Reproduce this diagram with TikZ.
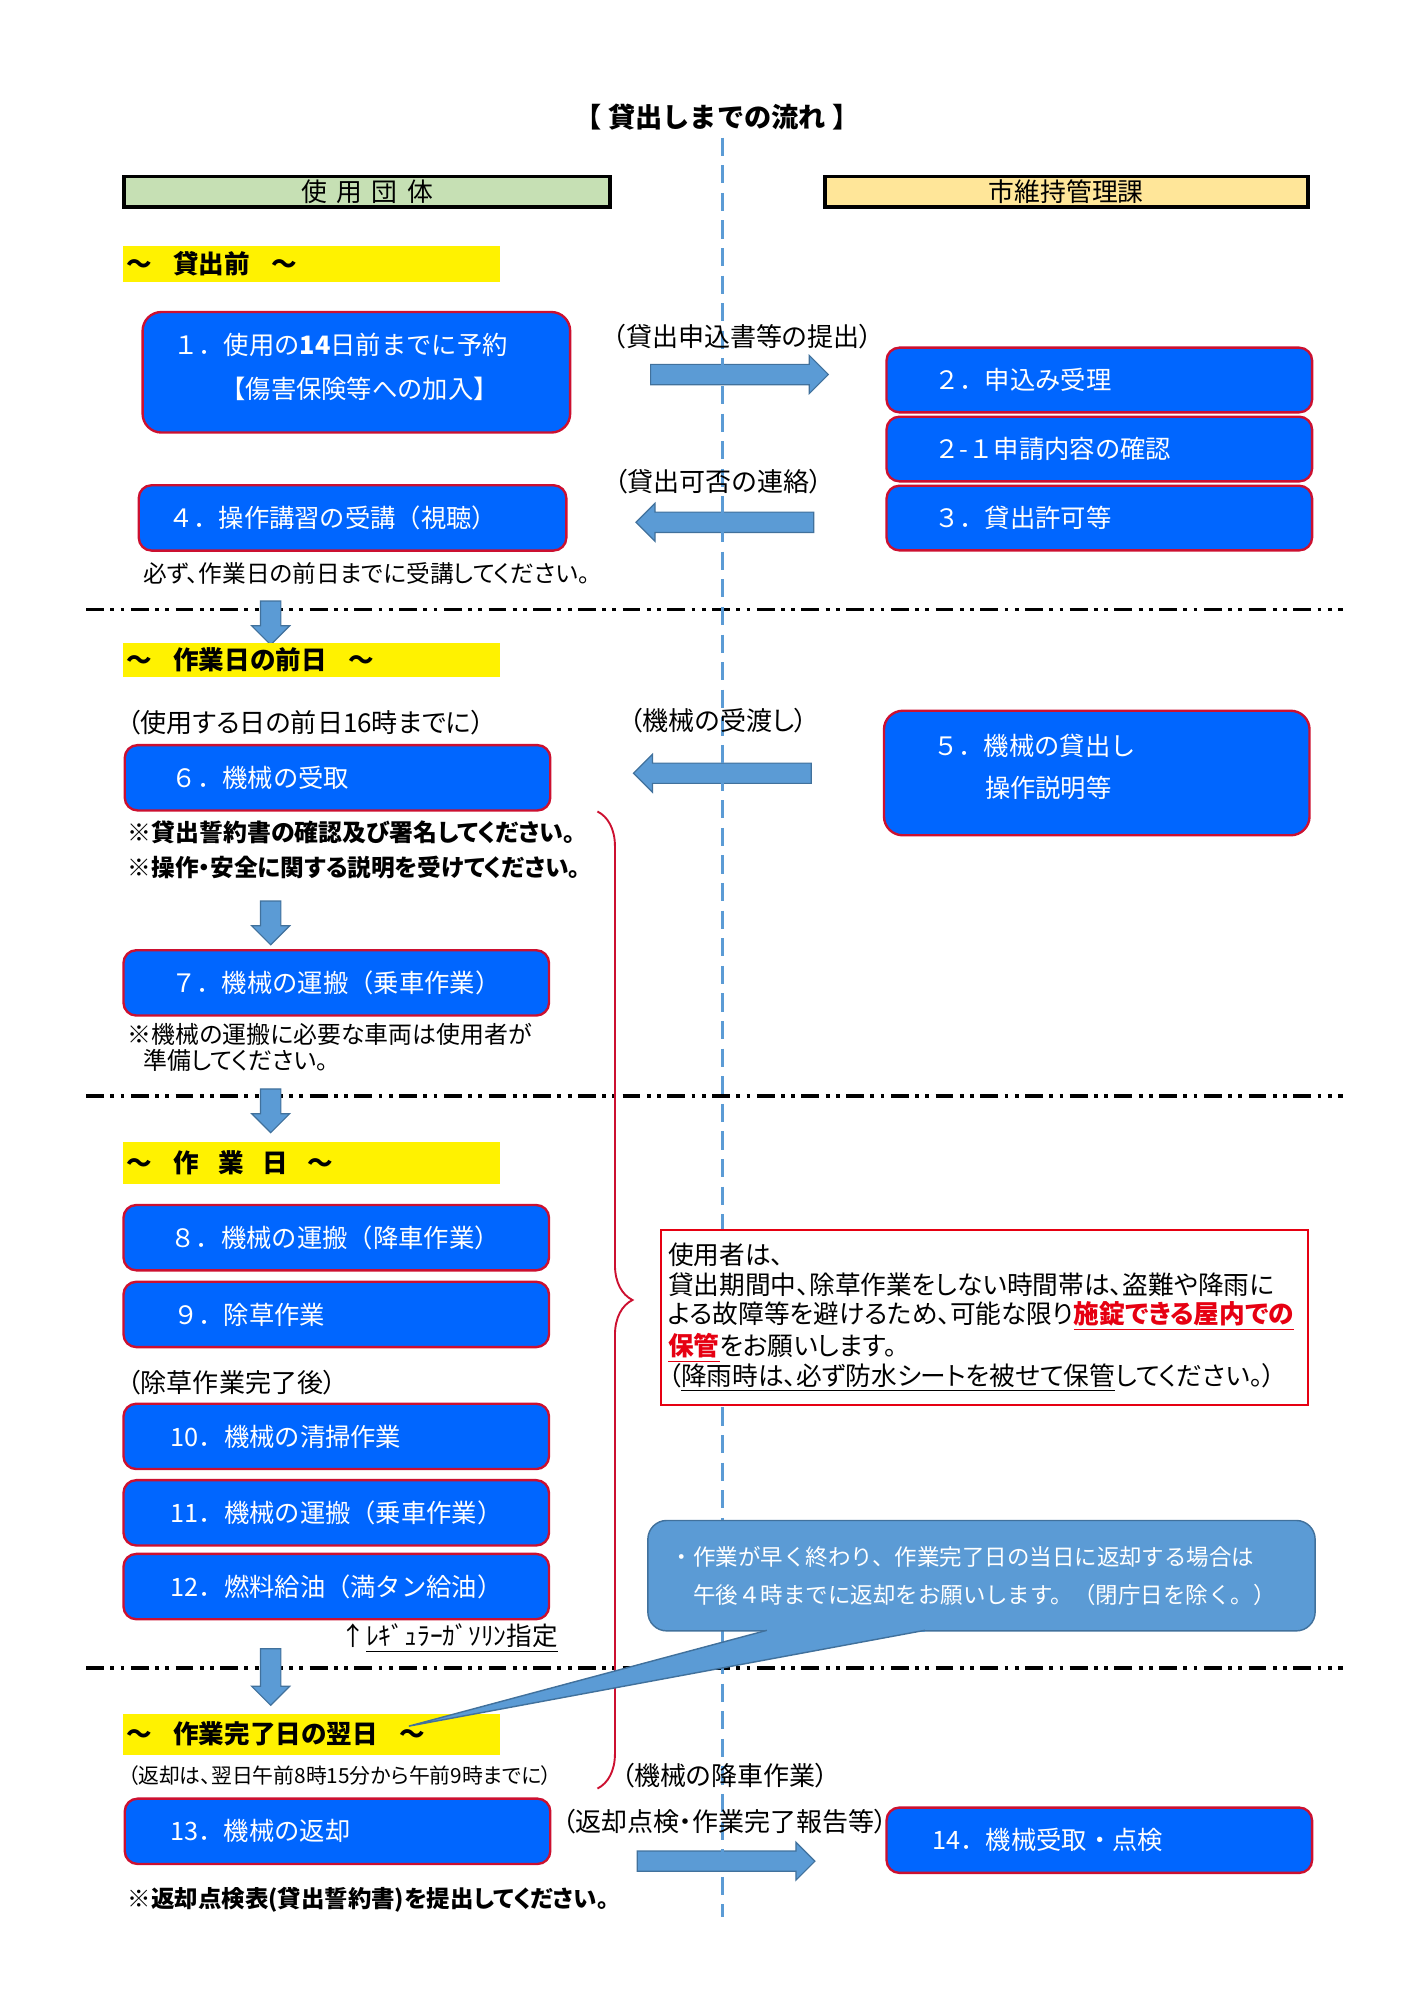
\documentclass[tikz,border=0pt]{standalone}
\usepackage{fontspec}
\setmainfont{Noto Sans CJK JP}
\newfontfamily\propfont{Noto Sans CJK JP}[RawFeature=+palt]
\usetikzlibrary{positioning, shapes.arrows, decorations.pathreplacing}

\definecolor{boxblue}{RGB}{0,102,255}
\definecolor{boxred}{RGB}{204,16,48}
\definecolor{flowblue}{RGB}{91,155,213}
\definecolor{flowedge}{RGB}{65,113,156}
\definecolor{usergreen}{RGB}{198,224,180}
\definecolor{cityyellow}{RGB}{255,230,153}
\definecolor{notered}{RGB}{230,0,18}

\begin{document}
\begin{tikzpicture}[
		x=0.1892mm, y=-0.1892mm,
		stepbox/.style={rectangle, rounded corners=1.9mm, draw=boxred, line width=1pt,
			fill=boxblue, text=white, anchor=north west, minimum width=63.2mm,
			minimum height=9.7mm, text width=63.2mm, inner xsep=0pt, inner ysep=0pt,
			align=left, font=\fontsize{10.7}{13}\selectfont},
		headbox/.style={rectangle, draw=black, line width=1.6pt, anchor=north west,
			minimum width=71.7mm, minimum height=4.6mm, inner sep=0pt,
			font=\fontsize{10.9}{13}\selectfont},
		bandbox/.style={rectangle, fill=yellow, anchor=north west, minimum width=56mm,
			text width=56mm, inner xsep=0pt, inner ysep=0pt, align=left,
			font=\bfseries\fontsize{10.8}{13}\selectfont},
		flowarrow/.style={single arrow, draw=flowedge, fill=flowblue, line width=0.5pt,
			inner sep=1.42mm, single arrow head extend=1.32mm,
			single arrow head indent=0pt, minimum height=26.4mm},
		downarrow/.style={flowarrow, rotate=270, minimum height=6.5mm},
		caption/.style={inner sep=0pt, font=\propfont\fontsize{11}{13}\selectfont},
		remark/.style={caption, anchor=west},
		notebox/.style={rectangle, draw=notered, line width=0.8pt, fill=white,
			anchor=north west, minimum width=96.1mm, minimum height=25.9mm,
			text width=96.1mm, inner xsep=0pt, inner ysep=0pt, align=left,
			font=\propfont\fontsize{10.85}{12.5}\selectfont},
		callbox/.style={rectangle, rounded corners=2.8mm, draw=flowedge, line width=0.6pt,
			fill=flowblue, text=white, anchor=north west, minimum width=99.1mm,
			minimum height=16.4mm, text width=99.1mm, inner xsep=0pt, inner ysep=0pt,
			align=left, font=\fontsize{9.5}{16}\selectfont},
		sepline/.style={line width=1.5pt,
			dash pattern=on 2.65mm off 0.95mm on 0.57mm off 0.95mm on 0.57mm off 0.95mm},
		lanedash/.style={flowblue, line width=1.1pt, dash pattern=on 2.7mm off 1.4mm}
	]
	\useasboundingbox (0,0) rectangle (1110,1570);

	\foreach \sy in {478.5, 860.5, 1309.5}
		\draw[sepline] (67.6,\sy) -- (1054,\sy);

	\coordinate (braceTop) at (469,637);
	\coordinate (braceBot) at (469,1404);
	\draw[boxred, line width=0.8pt, decorate, decoration={brace, amplitude=5.2mm}]
		(braceTop) -- (braceBot);

	\node[flowarrow] (AR1) at (576.5,294) {};
	\node[flowarrow, rotate=180] (AL1) at (573,410) {};
	\node[flowarrow, rotate=180] (AL2) at (571,607) {};
	\node[flowarrow] (AR2) at (566,1461) {};
	\node[downarrow] (D1) at (212.5,485) {};
	\node[downarrow] (D2) at (212.5,720.5) {};
	\node[downarrow] (D3) at (212.5,868) {};
	\node[downarrow, minimum height=8.4mm] (D4) at (212.5,1312.5) {};

	\coordinate (laneTop) at (567,108);
	\coordinate (laneBot) at (567,1505);
	\draw[lanedash] (laneTop) -- (laneBot);

	\node[font=\bfseries\fontsize{11.5}{13}\selectfont] (title) at (563,92) {【 貸出しまでの流れ 】};
	\node[headbox, fill=usergreen, minimum width=72.1mm] (user) at (96,137) {使\hspace{0.37em}用\hspace{0.37em}団\hspace{0.37em}体};
	\node[headbox, fill=cityyellow] (city) at (646,137) {市維持管理課};

	\node[bandbox, minimum height=5.3mm] (P0) at (96.5,193) {\hspace*{0.4mm}～\hspace*{0.85em}貸出前\hspace*{0.85em}～};
	\node[bandbox, minimum height=5.1mm] (P1) at (96.5,504) {\hspace*{0.4mm}～\hspace*{0.85em}作業日の前日\hspace*{0.85em}～};
	\node[bandbox, minimum height=6.25mm] (P2) at (96.5,896) {\hspace*{0.4mm}～\hspace*{0.85em}作\hspace*{0.75em}業\hspace*{0.75em}日\hspace*{0.75em}～};
	\node[bandbox, minimum height=6.05mm] (P3) at (96.5,1345) {\hspace*{0.4mm}～\hspace*{0.85em}作業完了日の翌日\hspace*{0.85em}～};

	\node[stepbox, rounded corners=2.8mm, minimum width=63.5mm, minimum height=17.9mm, font=\fontsize{10.7}{18.6}\selectfont] (B1) at (111,244)
		{\hspace*{4.4mm}１．使用の\textbf{14}日前までに予約\\\hspace*{11.4mm}【傷害保険等への加入】\rule[-1.8mm]{0pt}{0pt}};
	\node[stepbox, minimum height=9.6mm] (B2) at (695,272) {\hspace*{7.1mm}２．申込み受理};
	\node[stepbox, minimum height=9.6mm, below=0.3mm of B2] (B21) {\hspace*{7.1mm}２-１申請内容の確認};
	\node[stepbox, minimum height=9.6mm, below=0.3mm of B21] (B3) {\hspace*{7.1mm}３．貸出許可等};
	\node[stepbox, minimum width=63.5mm] (B4) at (108,380) {\hspace*{4.2mm}４．操作講習の受講（視聴）};
	\node[stepbox, rounded corners=2.8mm, minimum height=18.5mm, font=\fontsize{10.7}{18}\selectfont] (B5) at (693,557)
		{\hspace*{7.3mm}５．機械の貸出し\\\hspace*{15mm}操作説明等\rule[-2.2mm]{0pt}{0pt}};
	\node[stepbox] (B6) at (97,584) {\hspace*{7mm}６．機械の受取};
	\node[stepbox] (B7) at (96,745) {\hspace*{7.1mm}７．機械の運搬（乗車作業）};
	\node[stepbox] (B8) at (96,945) {\hspace*{7mm}８．機械の運搬（降車作業）};
	\node[stepbox, below=1.35mm of B8] (B9) {\hspace*{7.4mm}９．除草作業};
	\node[stepbox] (B10) at (96,1101) {\hspace*{7mm}10．機械の清掃作業};
	\node[stepbox, below=1.3mm of B10] (B11) {\hspace*{7mm}11．機械の運搬（乗車作業）};
	\node[stepbox, below=0.9mm of B11] (B12) {\hspace*{7mm}12．燃料給油（満タン給油）};
	\node[stepbox] (B13) at (97,1411) {\hspace*{6.8mm}13．機械の返却};
	\node[stepbox] (B14) at (695,1418) {\hspace*{6.8mm}14．機械受取・点検};

	\node[caption] (C1) at (583,264) {（貸出申込書等の提出）};
	\node[caption] (C2) at (564,378) {（貸出可否の連絡）};
	\node[caption] (C3) at (564,566) {（機械の受渡し）};
	\node[caption] (C4) at (569,1394) {（機械の降車作業）};
	\node[caption] (C5) at (569,1430) {（返却点検・作業完了報告等）};

	\node[remark, font=\propfont\fontsize{10}{12}\selectfont] (R4) at (112,450) {必ず、作業日の前日までに受講してください。};
	\node[remark] (R6a) at (100,567) {（使用する日の前日16時までに）};
	\node[remark, font=\propfont\bfseries\fontsize{10.1}{12}\selectfont] (R6b) at (100,653) {※貸出誓約書の確認及び署名してください。};
	\node[remark, font=\propfont\bfseries\fontsize{10}{12}\selectfont] (R6c) at (100,681) {※操作・安全に関する説明を受けてください。};
	\node[remark, align=left, font=\propfont\fontsize{10.1}{10.9}\selectfont] (R7) at (100,822)
		{※機械の運搬に必要な車両は使用者が\\\hspace*{2.3mm}準備してください。};
	\node[remark] (R9) at (100,1085) {（除草作業完了後）};
	\node[remark, font=\propfont\fontsize{10.8}{12}\selectfont] (R12) at (267,1286) {↑\underline{ﾚｷﾞｭﾗｰｶﾞｿﾘﾝ指定}};
	\node[remark, font=\propfont\fontsize{8.8}{10}\selectfont] (R13a) at (100,1394) {（返却は、翌日午前8時15分から午前9時までに）};
	\node[remark, font=\propfont\bfseries\fontsize{9.9}{12}\selectfont] (R13b) at (100,1491) {※返却点検表(貸出誓約書)を提出してください。};

	\node[notebox] (NB) at (518,965) {\hspace*{1.1mm}使用者は、\\
		\hspace*{1.1mm}貸出期間中、除草作業をしない時間帯は、盗難や降雨に\\
		\hspace*{1.1mm}よる故障等を避けるため、可能な限り{\color{notered}\bfseries\underline{施錠できる屋内での}}\\
		\hspace*{1.1mm}{\color{notered}\bfseries\underline{保管}}をお願いします。\\
		\hspace*{1.1mm}（\underline{降雨時は、必ず防水シートを被せて保管}してください。）\rule[-0.9mm]{0pt}{0pt}};

	\node[callbox] (CB) at (508,1193)
		{\hspace*{3.4mm}・作業が早く終わり、作業完了日の当日に返却する場合は\\\hspace*{3.4mm}\hspace*{1em}午後４時までに返却をお願いします。（閉庁日を除く。）};
	\coordinate (callL) at (602,1279.8);
	\coordinate (callR) at (726,1279.8);
	\coordinate (callTip) at (321,1355);
	\fill[flowblue] (callL) -- (callTip) -- (callR) -- cycle;
	\draw[flowblue, line width=1.2pt] (callL) -- (callR);
	\draw[flowedge, line width=0.6pt] (callL) -- (callTip) -- (callR);
\end{tikzpicture}
\end{document}
